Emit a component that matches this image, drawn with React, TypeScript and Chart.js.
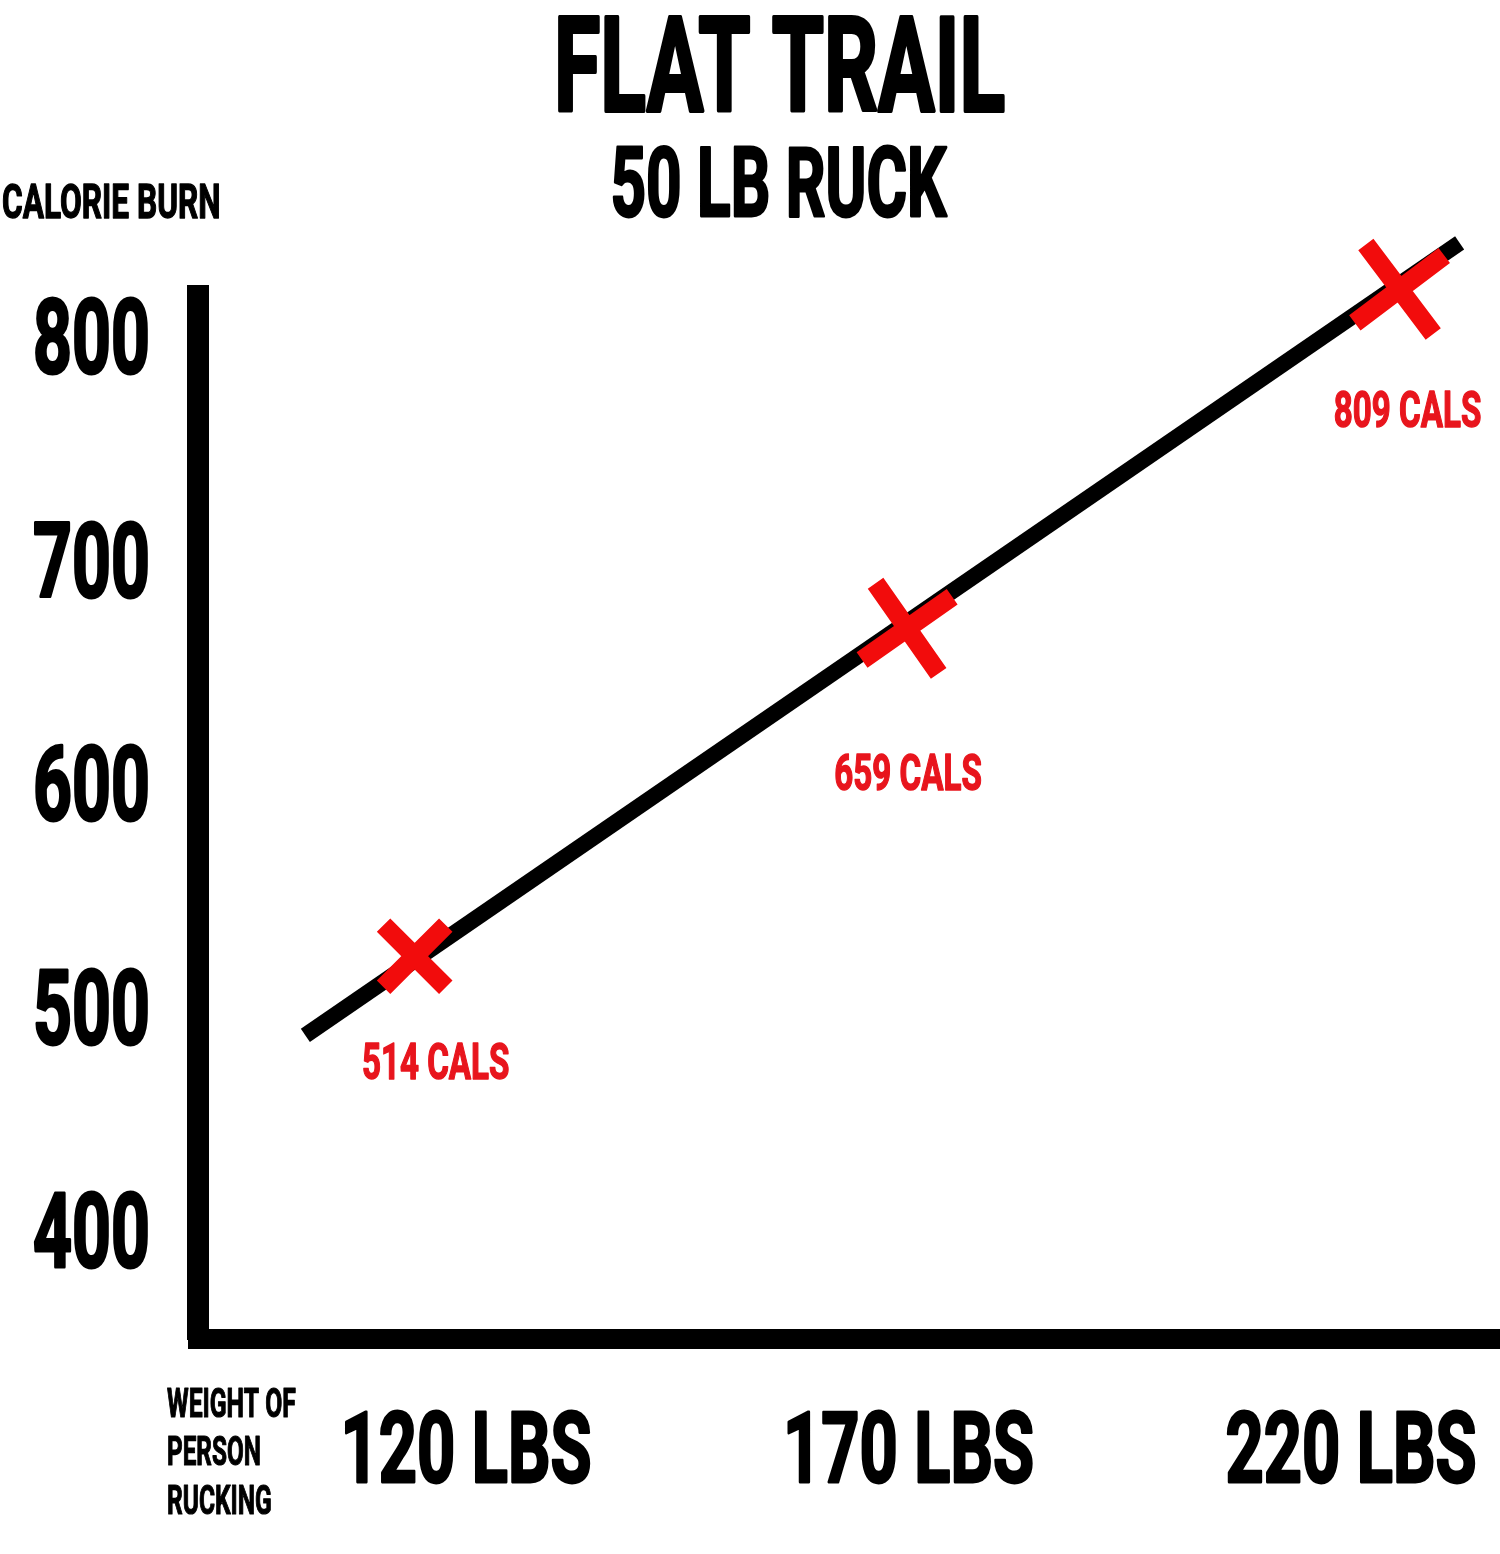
import React, { useEffect, useRef } from "react";
import { Chart, registerables } from "chart.js";

Chart.register(...registerables);

// ---- data ----
const TITLE = "FLAT TRAIL";
const SUBTITLE = "50 LB RUCK";
const Y_AXIS_TITLE = "CALORIE BURN";
const X_AXIS_TITLE = ["WEIGHT OF", "PERSON", "RUCKING"];
const weights = [120, 170, 220];
const weightLabels = ["120 LBS", "170 LBS", "220 LBS"];
const calories = [514, 659, 809];
const calorieLabels = ["514 CALS", "659 CALS", "809 CALS"];
const yTicks = [400, 500, 600, 700, 800];
// hand-drawn trend line, end points (lbs, cals)
const trendX = [108.9, 226.1];
const trendY = [479, 829.5];

// ---- style ----
const RED_MARK = "#f20c0c";
const RED_TEXT = "#e8151d";
const FONT = 'Roboto, "Liberation Sans", sans-serif';
const CAP = 0.711;
const markOffsets = [
  [21, 124],
  [1, 162],
  [8, 139],
];

function drawFitted(
  ctx: CanvasRenderingContext2D,
  text: string,
  x: number,
  baseline: number,
  cap: number,
  width: number,
  align: CanvasTextAlign,
  color: string
) {
  const stroke = cap * 0.04;
  const size = (cap - stroke) / CAP;
  ctx.save();
  ctx.font = `bold ${size}px ${FONT}`;
  const w = ctx.measureText(text).width;
  const sx = (width - stroke) / w;
  ctx.translate(x, baseline - stroke / 2);
  ctx.scale(sx, 1);
  ctx.textAlign = align;
  ctx.textBaseline = "alphabetic";
  ctx.fillStyle = color;
  ctx.strokeStyle = color;
  ctx.lineJoin = "round";
  ctx.lineWidth = stroke;
  ctx.fillText(text, 0, 0);
  ctx.strokeText(text, 0, 0);
  ctx.restore();
}

const textPlugin = {
  id: "posterText",
  afterDraw(chart: any) {
    const ctx: CanvasRenderingContext2D = chart.ctx;
    const yl = chart.scales.yl;
    const xl = chart.scales.xl;
    const x = chart.scales.x;
    const y = chart.scales.y;

    drawFitted(ctx, TITLE, 779.5, 113, 98, 455, "center", "#000");
    drawFitted(ctx, SUBTITLE, 778.5, 217, 72, 339, "center", "#000");
    drawFitted(ctx, Y_AXIS_TITLE, 2, 219, 36, 220, "left", "#000");

    yTicks.forEach((v) => {
      const py = yl.getPixelForValue(v);
      drawFitted(ctx, String(v), 150, py + 38.5, 77, 120, "right", "#000");
    });

    weightLabels.forEach((lab, i) => {
      const px = xl.getPixelForValue(weights[i]);
      drawFitted(ctx, lab, px, 1483, 73, 254, "center", "#000");
    });

    const xtWidths = [130, 95, 106];
    const xtBase = [1418, 1466, 1515];
    X_AXIS_TITLE.forEach((t, i) => {
      drawFitted(ctx, t, 167, xtBase[i], 30, xtWidths[i], "left", "#000");
    });

    calorieLabels.forEach((lab, i) => {
      const px = x.getPixelForValue(weights[i]) + markOffsets[i][0];
      const py = y.getPixelForValue(calories[i]) + markOffsets[i][1];
      drawFitted(ctx, lab, px, py, 37, 149, "center", RED_TEXT);
    });
  },
};

export default function App() {
  const ref = useRef<HTMLCanvasElement | null>(null);

  useEffect(() => {
    document.body.style.margin = "0";
    document.body.style.background = "#fff";
    const canvas = ref.current!;
    const chart = new Chart(canvas, {
      type: "line",
      data: {
        datasets: [
          {
            label: "calories",
            data: weights.map((w, i) => ({ x: w, y: calories[i] })),
            showLine: false,
            pointStyle: "crossRot",
            pointRadius: [44, 55, 56],
            pointRotation: [0, 10, 8],
            pointBorderWidth: 19,
            pointBorderColor: RED_MARK,
            pointBackgroundColor: RED_MARK,
            clip: false,
            order: 0,
            xAxisID: "x",
            yAxisID: "y",
          } as any,
          {
            label: "trend",
            data: trendX.map((tx, i) => ({ x: tx, y: trendY[i] })),
            borderColor: "#000",
            borderWidth: 16,
            borderCapStyle: "butt",
            pointRadius: 0,
            clip: false,
            order: 1,
            xAxisID: "x",
            yAxisID: "y",
          } as any,
        ],
      },
      options: {
        responsive: false,
        animation: false,
        devicePixelRatio: 1,
        events: [],
        layout: {
          autoPadding: false,
          padding: { left: 198, top: 296, right: 0, bottom: 215 },
        },
        plugins: {
          legend: { display: false },
          tooltip: { enabled: false },
          title: { display: false },
        },
        scales: {
          x: {
            type: "linear",
            position: "bottom",
            min: 98,
            max: 230.2,
            ticks: { display: false },
            grid: { display: false, drawTicks: false },
            border: { display: true, width: 20, color: "#000" },
          },
          y: {
            type: "linear",
            position: "left",
            min: 344.7,
            max: 806,
            ticks: { display: false },
            grid: { display: false, drawTicks: false },
            border: { display: true, width: 22, color: "#000" },
          },
          xl: {
            type: "linear",
            axis: "x",
            position: "bottom",
            display: false,
            min: 89.72,
            max: 236.84,
            ticks: { display: false },
            grid: { display: false, drawTicks: false },
          },
          yl: {
            type: "linear",
            axis: "y",
            position: "left",
            display: false,
            min: 351.2,
            max: 818.1,
            ticks: { display: false },
            grid: { display: false, drawTicks: false },
            afterBuildTicks: (s: any) => {
              s.ticks = yTicks.map((v) => ({ value: v }));
            },
          },
        } as any,
      },
      plugins: [textPlugin],
    });
    return () => chart.destroy();
  }, []);

  return (
    <canvas
      ref={ref}
      width={1500}
      height={1554}
      style={{ display: "block", width: 1500, height: 1554 }}
    />
  );
}
